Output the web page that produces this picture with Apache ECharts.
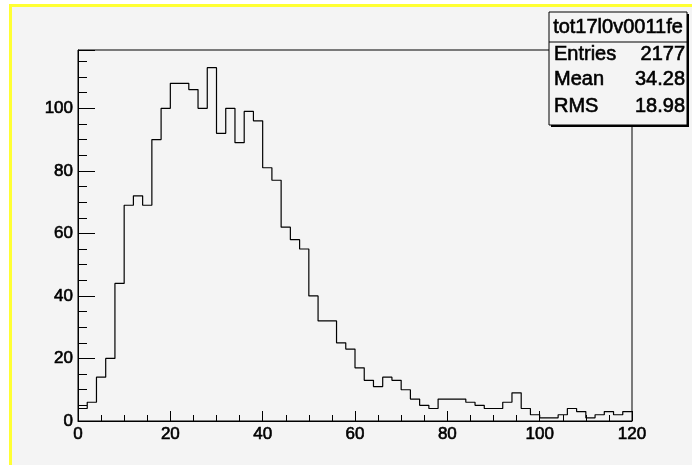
<!DOCTYPE html>
<html>
<head>
<meta charset="utf-8">
<script src="https://cdn.jsdelivr.net/npm/echarts@6/dist/echarts.min.js"></script>
<style>
  html, body { margin: 0; padding: 0; background: #ffffff; }
  #chart { width: 692px; height: 465px; }
</style>
</head>
<body>
<div id="chart"></div>
<script>
/* DATOS DEL HISTOGRAMA (60 bins de ancho 2, de 0 a 120) */
var binLow = 0
var binWidth = 2
var binCounts = [
	4, 6, 14, 20, 44, 69, 72, 69, 90, 100,
	108, 108, 106, 100, 113, 92, 100, 89, 99, 96,
	81, 77, 62, 58, 55, 40, 32, 32, 25, 23,
	17, 13, 11, 14, 13, 10, 7, 5, 4, 7,
	7, 7, 6, 5, 4, 4, 6, 9, 4, 2,
	1, 1, 2, 4, 3, 1, 2, 3, 2, 3
]
var xTicks = [0, 20, 40, 60, 80, 100, 120]
var yTicks = [0, 20, 40, 60, 80, 100]
var yMax = 118.65

/* CAJA DE ESTADISTICAS */
var statsTitle = "tot17l0v0011fe"
var statsNames = ["Entries", "Mean", "RMS"]
var statsValues = ["2177", "34.28", "18.98"]

/* PUNTOS DEL CONTORNO (bordes de bin) */
var outline = []
for (var i = 0; i < binCounts.length; i++) {
	outline.push([binLow + i * binWidth, binCounts[i]])
}
outline.push([binLow + binCounts.length * binWidth, binCounts[binCounts.length - 1]])

var labelFont = { fontFamily: "Liberation Sans", fontSize: 17, color: "#000",
                  textBorderColor: "#000", textBorderWidth: 0.6 }

/* GRAFICOS DE LA CAJA */
var boxL = 549, boxT = 12, boxR = 687, boxB = 125, divY = 42
var rowY = [54, 79.5, 106]
function statsText(txt, x, y, align) {
	return { type: "text", z: 103, x: x, y: y,
		style: { text: txt, fontFamily: "Liberation Sans", fontSize: 20, fill: "#000",
		         stroke: "#000", lineWidth: 0.6,
		         textAlign: align, textVerticalAlign: "middle" } }
}
var statsGraphics = [
	// sombra
	{ type: "rect", z: 100, shape: { x: boxL + 2, y: boxT + 2, width: boxR - boxL, height: boxB - boxT },
	  style: { fill: "#000" } },
	{ type: "rect", z: 101, shape: { x: boxL, y: boxT, width: boxR - boxL, height: boxB - boxT },
	  style: { fill: "#f4f4f4", stroke: "#000", lineWidth: 1 } },
	{ type: "line", z: 102, shape: { x1: boxL, y1: divY, x2: boxR, y2: divY },
	  style: { stroke: "#000", lineWidth: 1 } },
	statsText(statsTitle, (boxL + boxR) / 2, (boxT + divY) / 2, "center")
]
for (var k = 0; k < statsNames.length; k++) {
	statsGraphics.push(statsText(statsNames[k], boxL + 5, rowY[k], "left"))
	statsGraphics.push(statsText(statsValues[k], boxR - 2, rowY[k], "right"))
}

/* BORDE AMARILLO DEL PAD */
var padGraphics = [
	{ type: "rect", shape: { x: 0, y: 0, width: 10, height: 465 }, style: { fill: "#ffffff" } },
	{ type: "rect", shape: { x: 0, y: 0, width: 692, height: 5 }, style: { fill: "#ffffff" } },
	{ type: "rect", shape: { x: 9, y: 4, width: 3, height: 461 }, style: { fill: "#ffff33" } },
	{ type: "rect", shape: { x: 9, y: 4, width: 683, height: 3 }, style: { fill: "#ffff33" } }
]

var myChart = echarts.init(document.getElementById("chart"))
myChart.setOption({
	backgroundColor: "#f4f4f4",
	animation: false,
	grid: {
		left: 78, right: 60, top: 50, bottom: 44,
		show: true, borderColor: "#000", borderWidth: 1, backgroundColor: "transparent"
	},
	xAxis: {
		type: "value", min: xTicks[0], max: xTicks[xTicks.length - 1], interval: 20,
		axisLine: { onZero: false, lineStyle: { color: "#000", width: 1 } },
		axisTick: { inside: true, length: 10, lineStyle: { color: "#000" } },
		minorTick: { show: true, splitNumber: 4, length: 6, lineStyle: { color: "#000" } },
		splitLine: { show: false },
		axisLabel: Object.assign({ margin: 5 }, labelFont)
	},
	yAxis: {
		type: "value", min: yTicks[0], max: yMax, interval: 20,
		axisLine: { show: true, lineStyle: { color: "#000", width: 1 } },
		axisTick: { inside: true, length: 17, lineStyle: { color: "#000" } },
		minorTick: { show: true, splitNumber: 4, length: 9, lineStyle: { color: "#000" } },
		splitLine: { show: false },
		axisLabel: Object.assign({ margin: 5, showMaxLabel: false }, labelFont)
	},
	series: [{
		type: "line",
		step: "end",
		data: outline,
		symbol: "none",
		lineStyle: { color: "#000", width: 1.2 },
		z: 3
	}],
	graphic: padGraphics.concat(statsGraphics)
})
</script>
</body>
</html>
